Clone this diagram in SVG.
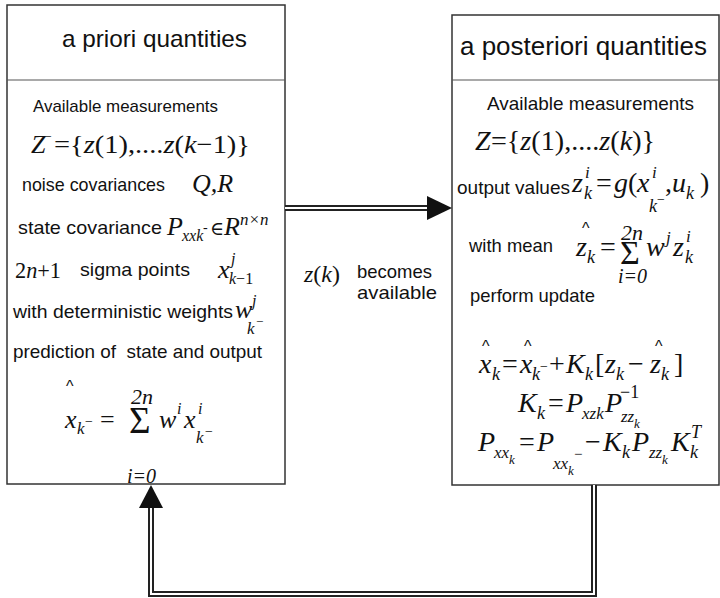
<svg xmlns="http://www.w3.org/2000/svg" width="720" height="598" viewBox="0 0 720 598">
<style>
.box{fill:#fff;stroke:#333;stroke-width:1.5}
.div{stroke:#555;stroke-width:1.2}
.h{font-family:"Liberation Sans",Arial,sans-serif;font-size:24px;fill:#111}
.t{font-family:"Liberation Sans",Arial,sans-serif;font-size:19px;fill:#111}
.m{font-family:"Liberation Serif","Times New Roman",serif;font-size:26px;fill:#111}
.r{font-size:28px}
.i{font-style:italic}
.s{font-family:"Liberation Serif","Times New Roman",serif;font-size:17px;font-style:italic;fill:#111}
.u{font-style:normal}
.hat{font-family:"Liberation Sans",Arial,sans-serif;font-size:16px;fill:#111}
.outer{fill:none;stroke:#222;stroke-width:6}
.inner{fill:none;stroke:#fff;stroke-width:2}
.head{fill:#111}
</style>

<g id="apriori">
<rect class="box" x="7" y="5" width="278" height="479"/>
<line class="div" x1="7" y1="80" x2="285" y2="80"/>
<text class="h" x="62" y="47" textLength="185" lengthAdjust="spacingAndGlyphs">a priori quantities</text>
<text class="t" x="33" y="112" style="font-size:17px" textLength="185" lengthAdjust="spacingAndGlyphs">Available measurements</text>
<text class="m i" x="31" y="153">Z</text>
<text class="m" x="44" y="141" style="font-size:14px">−</text>
<text class="m" x="54" y="153" textLength="196" lengthAdjust="spacingAndGlyphs">={<tspan class="i">z</tspan>(1),....<tspan class="i">z</tspan>(<tspan class="i">k</tspan>−1)}</text>
<text class="t" x="22" y="191" textLength="143" lengthAdjust="spacingAndGlyphs">noise covariances</text>
<text class="m i" x="192" y="192">Q,R</text>
<text class="t" x="18" y="234" textLength="144" lengthAdjust="spacingAndGlyphs">state covariance</text>
<text class="m i" x="167" y="235">P</text>
<text class="s" x="182" y="241" style="font-size:16px">xxk</text>
<text class="s u" x="203" y="232" style="font-size:14px">-</text>
<text class="m" x="210" y="235" style="font-size:19px;font-family:'Liberation Serif','DejaVu Serif',serif">∈</text>
<text class="m i" x="224" y="235">R</text>
<text class="s" x="240" y="225">n×n</text>
<text class="m" x="15" y="278" style="font-size:24px" textLength="46" lengthAdjust="spacingAndGlyphs">2<tspan class="i">n</tspan>+1</text>
<text class="t" x="80" y="276" textLength="110" lengthAdjust="spacingAndGlyphs">sigma points</text>
<text class="m i" x="218" y="278">x</text>
<text class="s" x="231" y="264" style="font-size:16px">j</text>
<text class="s" x="229" y="284" style="font-size:16px">k<tspan class="u">−1</tspan></text>
<text class="t" x="13" y="318" textLength="220" lengthAdjust="spacingAndGlyphs">with deterministic weights</text>
<text class="m i" x="235" y="318">w</text>
<text class="s" x="252" y="306" style="font-size:16px">j</text>
<text class="s" x="247" y="334">k</text>
<text class="s u" x="256" y="326" style="font-size:13px">−</text>
<text class="t" x="13" y="358" xml:space="preserve" textLength="249" lengthAdjust="spacingAndGlyphs">prediction of  state and output</text>
<text class="hat" x="66" y="392">^</text>
<text class="m i" x="65" y="428">x</text>
<text class="s" x="77" y="434">k</text>
<text class="s u" x="85" y="426" style="font-size:14px">−</text>
<text class="m" x="100" y="428">=</text>
<text class="m" x="129" y="433" style="font-size:37px">Σ</text>
<text class="m i" x="131" y="404" style="font-size:22px">2n</text>
<text class="m i" x="127" y="483" style="font-size:20px">i=0</text>
<text class="m i" x="159" y="428">w</text>
<text class="s" x="177" y="414" style="font-size:16px">i</text>
<text class="m i" x="184" y="428">x</text>
<text class="s" x="198" y="414" style="font-size:16px">i</text>
<text class="s" x="196" y="443">k</text>
<text class="s u" x="205" y="436" style="font-size:14px">−</text>
</g>

<g id="aposteriori">
<rect class="box" x="452" y="15" width="267" height="470"/>
<line class="div" x1="452" y1="80" x2="719" y2="80"/>
<text class="h" x="460" y="55" style="font-size:26px" textLength="247" lengthAdjust="spacingAndGlyphs">a posteriori quantities</text>
<text class="t" x="487" y="110" textLength="207" lengthAdjust="spacingAndGlyphs">Available measurements</text>
<text class="m r i" x="475" y="150">Z</text>
<text class="m r" x="491" y="150" textLength="164" lengthAdjust="spacingAndGlyphs">={<tspan class="i">z</tspan>(1),....<tspan class="i">z</tspan>(<tspan class="i">k</tspan>)}</text>
<text class="t" x="457" y="194" textLength="113" lengthAdjust="spacingAndGlyphs">output values</text>
<text class="m r i" x="572" y="192">z</text>
<text class="s" x="585" y="178">i</text>
<text class="s" x="584" y="199" style="font-size:18px">k</text>
<text class="m r" x="596" y="192">=</text>
<text class="m r i" x="614" y="192">g</text>
<text class="m r" x="628" y="192">(</text>
<text class="m r i" x="637" y="192">x</text>
<text class="s" x="652" y="178">i</text>
<text class="s" x="649" y="212" style="font-size:18px">k</text>
<text class="s u" x="657" y="204" style="font-size:14px">−</text>
<text class="m r" x="665" y="192">,</text>
<text class="m r i" x="672" y="192">u</text>
<text class="s" x="686" y="199" style="font-size:18px">k</text>
<text class="m r" x="700" y="192">)</text>
<text class="t" x="469" y="252" textLength="84" lengthAdjust="spacingAndGlyphs">with mean</text>
<text class="hat" x="582" y="234">^</text>
<text class="m r i" x="576" y="256">z</text>
<text class="s" x="587" y="263" style="font-size:18px">k</text>
<text class="m r" x="600" y="256">=</text>
<text class="m" x="620" y="264" style="font-size:34px">Σ</text>
<text class="m i" x="621" y="240" style="font-size:22px">2n</text>
<text class="m i" x="618" y="283" style="font-size:20px">i=0</text>
<text class="m r i" x="646" y="256">w</text>
<text class="s" x="666" y="243">j</text>
<text class="m r i" x="673" y="256">z</text>
<text class="s" x="686" y="242">i</text>
<text class="s" x="685" y="263" style="font-size:18px">k</text>
<text class="t" x="470" y="302" textLength="125" lengthAdjust="spacingAndGlyphs">perform update</text>
<text class="hat" x="482" y="352">^</text>
<text class="hat" x="524" y="352">^</text>
<text class="hat" x="655" y="352">^</text>
<text class="m r i" x="479" y="373">x</text>
<text class="s" x="492" y="380" style="font-size:18px">k</text>
<text class="m r" x="502" y="373">=</text>
<text class="m r i" x="520" y="373">x</text>
<text class="s" x="532" y="380" style="font-size:18px">k</text>
<text class="s u" x="540" y="371" style="font-size:14px">−</text>
<text class="m r" x="549" y="373">+</text>
<text class="m r i" x="566" y="373">K</text>
<text class="s" x="585" y="380" style="font-size:18px">k</text>
<text class="m r" x="595" y="373">[</text>
<text class="m r i" x="605" y="373">z</text>
<text class="s" x="616" y="380" style="font-size:18px">k</text>
<text class="m r" x="628" y="373">−</text>
<text class="m r i" x="650" y="373">z</text>
<text class="s" x="661" y="380" style="font-size:18px">k</text>
<text class="m r" x="674" y="373">]</text>
<text class="m r i" x="518" y="412">K</text>
<text class="s" x="537" y="419" style="font-size:18px">k</text>
<text class="m r" x="548" y="412">=</text>
<text class="m r i" x="566" y="412">P</text>
<text class="s" x="582" y="419">xzk</text>
<text class="m r i" x="605" y="412">P</text>
<text class="m" x="620" y="398" style="font-size:18px">−1</text>
<text class="s" x="621" y="422">zz</text>
<text class="s" x="634" y="428" style="font-size:13px">k</text>
<text class="m r i" x="478" y="451">P</text>
<text class="s" x="494" y="458">xx</text>
<text class="s" x="509" y="464" style="font-size:13px">k</text>
<text class="m r" x="519" y="451">=</text>
<text class="m r i" x="537" y="451">P</text>
<text class="s" x="553" y="469">xx</text>
<text class="s" x="568" y="475" style="font-size:13px">k</text>
<text class="s u" x="574" y="459" style="font-size:15px">−</text>
<text class="m r" x="585" y="451">−</text>
<text class="m r i" x="603" y="451">K</text>
<text class="s" x="622" y="458" style="font-size:18px">k</text>
<text class="m r i" x="632" y="451">P</text>
<text class="s" x="649" y="458">zz</text>
<text class="s" x="662" y="464" style="font-size:13px">k</text>
<text class="m r i" x="671" y="451">K</text>
<text class="s" x="690" y="458" style="font-size:18px">k</text>
<text class="s" x="691" y="438" style="font-size:18px">T</text>
</g>

<g id="label">
<text class="m" x="304" y="282" style="font-size:24px"><tspan class="i">z</tspan>(<tspan class="i">k</tspan>)</text>
<text class="t" x="357" y="278" textLength="75" lengthAdjust="spacingAndGlyphs">becomes</text>
<text class="t" x="357" y="299" textLength="80" lengthAdjust="spacingAndGlyphs">available</text>
</g>

<g id="connectors">
<polyline class="outer" points="285,208 430,208"/>
<polyline class="inner" points="285,208 430,208"/>
<polygon class="head" points="427,196 452,208 427,220"/>
<polyline class="outer" points="594,485 594,594 151,594 151,505"/>
<polyline class="inner" points="594,485 594,594 151,594 151,505"/>
<polygon class="head" points="139,508 151,485 163,508"/>
</g>
</svg>
